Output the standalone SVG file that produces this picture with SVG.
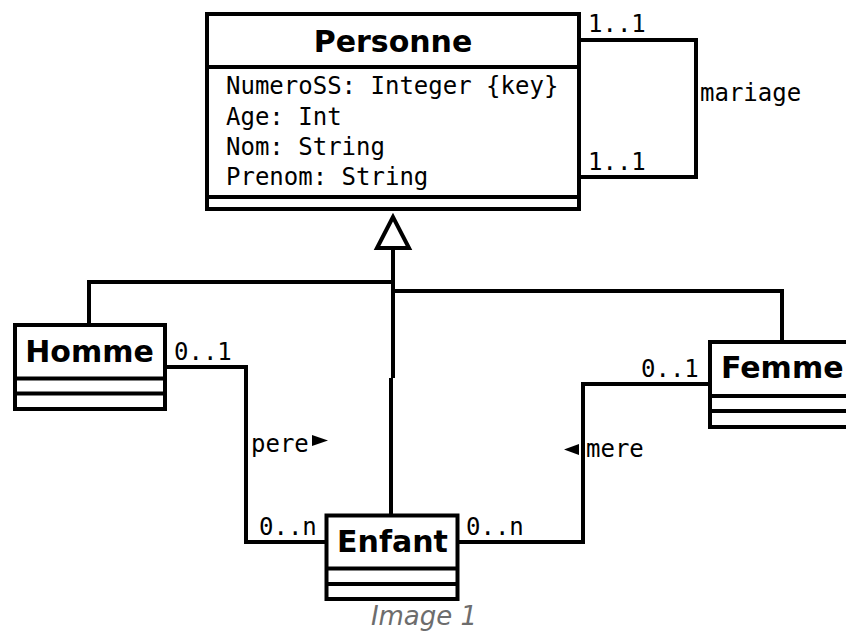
<svg xmlns="http://www.w3.org/2000/svg" width="846" height="632" viewBox="0 0 846 632">
  <style>
    .box { fill: #ffffff; stroke: #000000; stroke-width: 4; }
    .sep { stroke: #000000; stroke-width: 4; }
    .link { fill: none; stroke: #000000; stroke-width: 4; }
    .dir { fill: #000000; stroke: none; }
    .title { font-family: "DejaVu Sans", "Liberation Sans", sans-serif; font-weight: bold; font-size: 30px; fill: #000000; }
    .attr { font-family: "DejaVu Sans Mono", "Liberation Mono", monospace; font-size: 24px; fill: #000000; }
    .lbl { font-family: "DejaVu Sans Mono", "Liberation Mono", monospace; font-size: 24px; fill: #000000; }
    .caption { font-family: "DejaVu Sans", "Liberation Sans", sans-serif; font-style: italic; font-size: 26px; fill: #6d6d6d; }
  </style>
  <rect width="846" height="632" fill="#ffffff"/>

  <!-- connectors -->
  <g id="connectors">
    <!-- mariage self-association -->
    <path class="link" d="M579,40 H696 V177 H579"/>
    <!-- generalisation tree -->
    <path class="link" d="M393,248 V378"/>
    <path class="link" d="M391,378 V515"/>
    <path class="link" d="M89,325 V282 H393"/>
    <path class="link" d="M393,291 H782 V342"/>
    <polygon class="link" points="393,217 377,248 409,248" style="fill:#ffffff"/>
    <!-- pere association -->
    <path class="link" d="M165,367 H246 V542 H326"/>
    <!-- mere association -->
    <path class="link" d="M710,384 H583 V542 H458"/>

    <text class="lbl" x="588" y="32">1..1</text>
    <text class="lbl" x="588" y="170">1..1</text>
    <text class="lbl" x="700" y="101">mariage</text>
    <text class="lbl" x="174" y="360">0..1</text>
    <text class="lbl" x="251" y="452">pere</text>
    <polygon class="dir" points="312,435 328,440.5 312,446"/>
    <polygon class="dir" points="579,444 564,449.5 579,455"/>
    <text class="lbl" x="586" y="457">mere</text>
    <text class="lbl" x="259" y="535">0..n</text>
    <text class="lbl" x="466" y="535">0..n</text>
    <text class="lbl" x="641" y="377">0..1</text>
  </g>

  <!-- Personne -->
  <g id="personne">
    <rect class="box" x="207" y="14" width="372" height="195"/>
    <line class="sep" x1="207" y1="67" x2="579" y2="67"/>
    <line class="sep" x1="207" y1="197" x2="579" y2="197"/>
    <text class="title" x="393" y="52" text-anchor="middle">Personne</text>
    <text class="attr" x="226" y="94">NumeroSS: Integer {key}</text>
    <text class="attr" x="226" y="125">Age: Int</text>
    <text class="attr" x="226" y="155">Nom: String</text>
    <text class="attr" x="226" y="185">Prenom: String</text>
  </g>

  <!-- Homme -->
  <g id="homme">
    <rect class="box" x="15" y="325" width="150" height="84"/>
    <line class="sep" x1="15" y1="378.5" x2="165" y2="378.5"/>
    <line class="sep" x1="15" y1="393.5" x2="165" y2="393.5"/>
    <text class="title" x="89.5" y="362" text-anchor="middle">Homme</text>
  </g>

  <!-- Femme -->
  <g id="femme">
    <rect class="box" x="710" y="342" width="160" height="85"/>
    <line class="sep" x1="710" y1="396" x2="870" y2="396"/>
    <line class="sep" x1="710" y1="411" x2="870" y2="411"/>
    <text class="title" x="721" y="378">Femme</text>
  </g>

  <!-- Enfant -->
  <g id="enfant">
    <rect class="box" x="326.5" y="515.5" width="131" height="83.5"/>
    <line class="sep" x1="326.5" y1="568.5" x2="457.5" y2="568.5"/>
    <line class="sep" x1="326.5" y1="584" x2="457.5" y2="584"/>
    <text class="title" x="392.5" y="552" text-anchor="middle">Enfant</text>
  </g>

  <text class="caption" x="424" y="625" text-anchor="middle">Image 1</text>
</svg>
